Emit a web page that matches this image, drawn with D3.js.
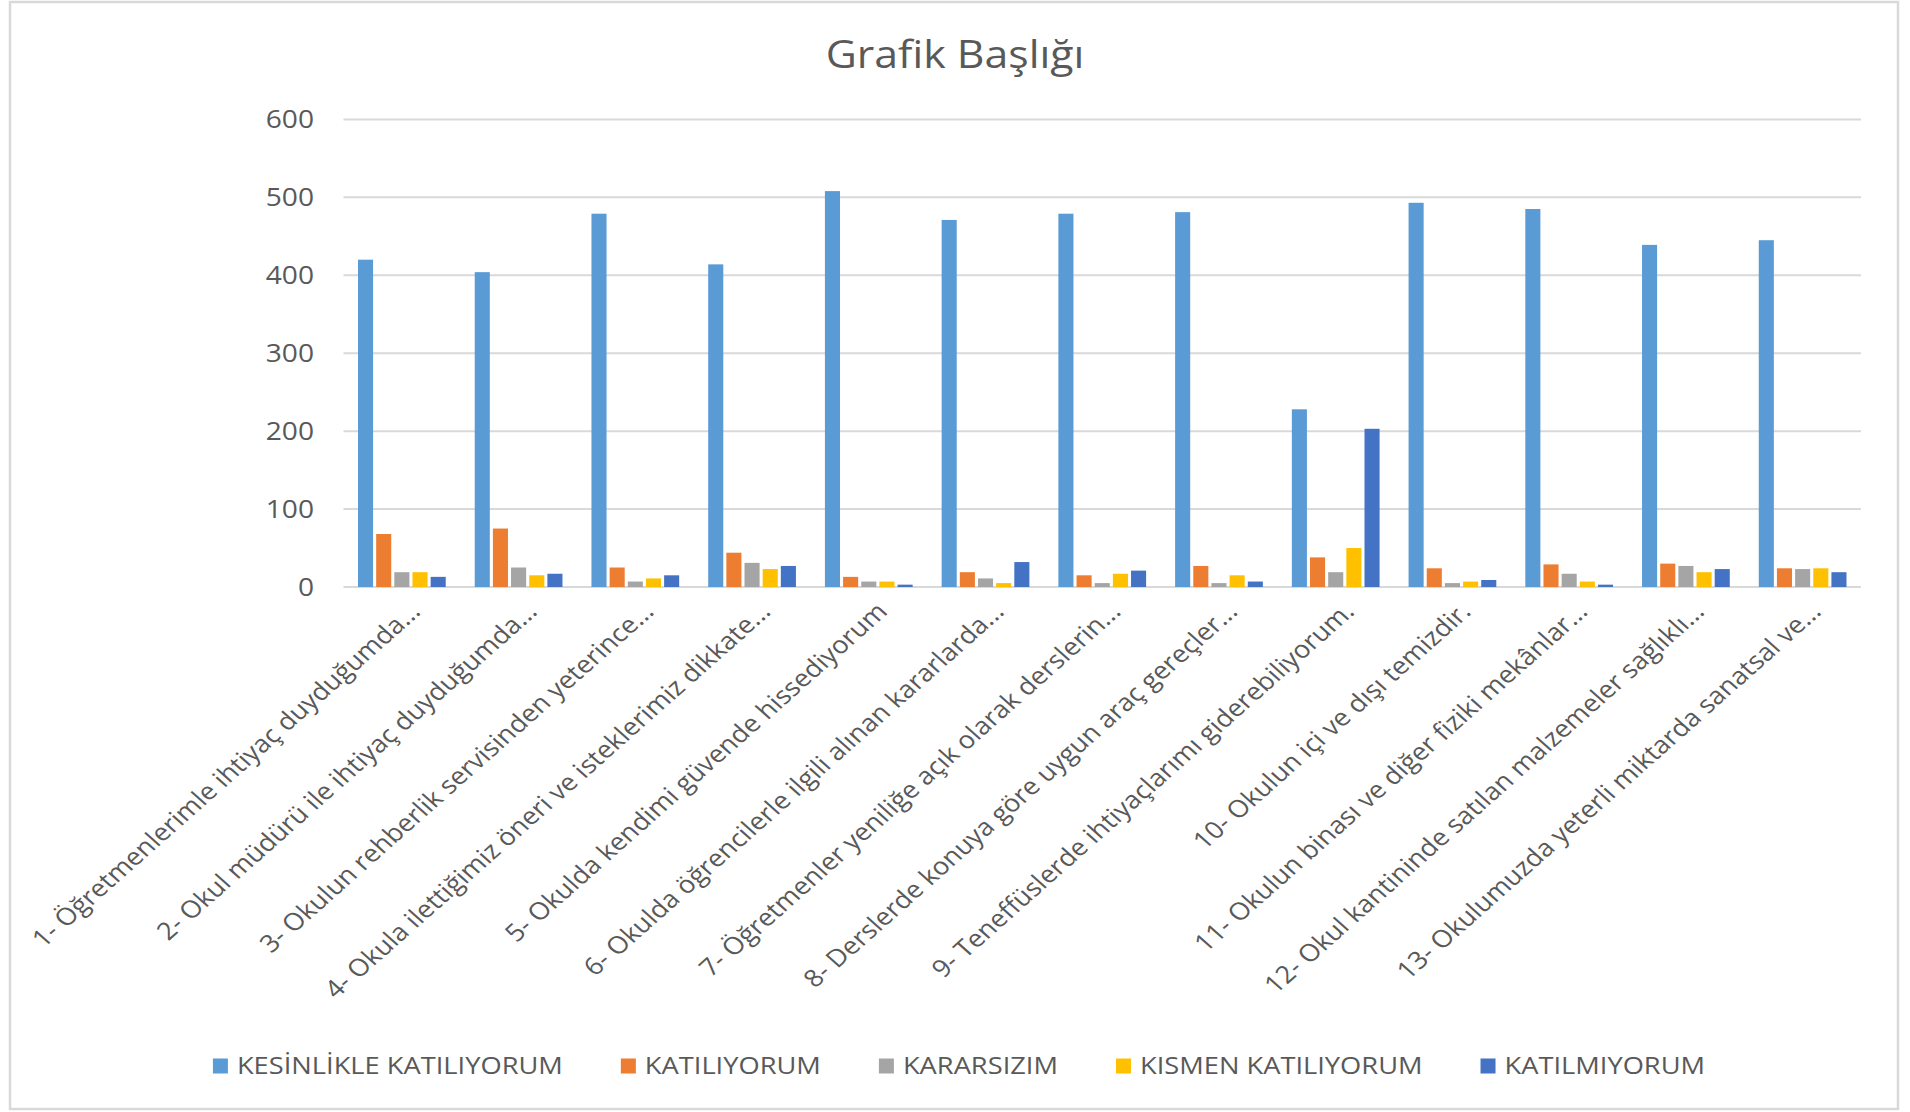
<!DOCTYPE html>
<html>
<head>
<meta charset="utf-8">
<style>
  body { margin: 0; background: #fff; }
  svg { display: block; font-family: "Open Sans", sans-serif; }
</style>
</head>
<body>
<svg width="1910" height="1112"></svg>
<script src="https://d3js.org/d3.v7.min.js"></script>
<script>

const categories = [
  "1- Öğretmenlerimle ihtiyaç duyduğumda...",
  "2- Okul müdürü ile ihtiyaç duyduğumda...",
  "3- Okulun rehberlik servisinden yeterince...",
  "4- Okula ilettiğimiz öneri ve isteklerimiz dikkate...",
  "5- Okulda kendimi güvende hissediyorum",
  "6- Okulda öğrencilerle ilgili alınan kararlarda...",
  "7- Öğretmenler yeniliğe açık olarak derslerin...",
  "8- Derslerde konuya göre uygun araç gereçler...",
  "9- Teneffüslerde ihtiyaçlarımı giderebiliyorum.",
  "10- Okulun içi ve dışı temizdir.",
  "11- Okulun binası ve diğer fiziki mekânlar...",
  "12- Okul kantininde satılan malzemeler sağlıklı...",
  "13- Okulumuzda yeterli miktarda sanatsal ve..."
];
const seriesNames = ["KESİNLİKLE KATILIYORUM", "KATILIYORUM", "KARARSIZIM", "KISMEN KATILIYORUM", "KATILMIYORUM"];
const seriesColors = ["#5B9BD5", "#ED7D31", "#A5A5A5", "#FFC000", "#4472C4"];

const kesinlikleKatiliyorum = [420, 404, 479, 414, 508, 471, 479, 481, 228, 493, 485, 439, 445];
const katiliyorum           = [68, 75, 25, 44, 13, 19, 15, 27, 38, 24, 29, 30, 24];
const kararsizim            = [19, 25, 7, 31, 7, 11, 5, 5, 19, 5, 17, 27, 23];
const kismenKatiliyorum     = [19, 15, 11, 23, 7, 5, 17, 15, 50, 7, 7, 19, 24];
const katilmiyorum          = [13, 17, 15, 27, 3, 32, 21, 7, 203, 9, 3, 23, 19];

const yTicks = [0, 100, 200, 300, 400, 500, 600];
const title = "Grafik Başlığı";

const allSeries = [kesinlikleKatiliyorum, katiliyorum, kararsizim, kismenKatiliyorum, katilmiyorum];
const plot = {left: 343.5, right: 1861, top: 119.4, bottom: 587};
const textColor = "#595959";
const gridColor = "#D9D9D9";
// görüntü yatayda biraz gerilmiş, yazılar da öyle
const stretch = 1.127;

let svg = d3.select("svg");

// çerçeve
svg.append("rect")
  .attr("x", 10).attr("y", 2)
  .attr("width", 1888).attr("height", 1107)
  .attr("fill", "#fff")
  .attr("stroke", gridColor)
  .attr("stroke-width", 2.5);

svg.append("text")
  .attr("transform", "translate(955,68) scale(" + stretch + ",1)")
  .attr("text-anchor", "middle")
  .attr("fill", textColor)
  .attr("font-size", "38px")
  .text(title);

let scaleY = d3.scaleLinear().domain([0, 600]).range([plot.bottom, plot.top]);
let scaleX = d3.scaleBand().domain(categories).range([plot.left, plot.right]);
let scaleS = d3.scaleBand().domain(seriesNames)
  .range([14.5, scaleX.bandwidth() - 14.5])
  .paddingInner(0.17);

// yatay ızgara çizgileri
svg.append("g").selectAll("line").data(yTicks).enter().append("line")
  .attr("x1", plot.left).attr("x2", plot.right)
  .attr("y1", d => scaleY(d)).attr("y2", d => scaleY(d))
  .attr("stroke", gridColor)
  .attr("stroke-width", 2);

svg.append("g").selectAll("text").data(yTicks).enter().append("text")
  .attr("transform", d => "translate(314," + scaleY(d) + ") scale(" + stretch + ",1)")
  .attr("dy", "0.35em")
  .attr("text-anchor", "end")
  .attr("fill", textColor)
  .attr("font-size", "25px")
  .text(d => d);

// sütunlar
let groups = svg.append("g").selectAll("g").data(categories).enter().append("g")
  .attr("transform", d => "translate(" + scaleX(d) + ",0)");

groups.selectAll("rect")
  .data((c, i) => seriesNames.map((s, j) => ({s: s, j: j, v: allSeries[j][i]})))
  .enter().append("rect")
  .attr("x", d => scaleS(d.s))
  .attr("width", scaleS.bandwidth())
  .attr("y", d => scaleY(d.v))
  .attr("height", d => scaleY(0) - scaleY(d.v))
  .attr("fill", d => seriesColors[d.j]);

// kategori etiketleri
svg.append("g").selectAll("text").data(categories).enter().append("text")
  .attr("transform", d => "translate(" + (scaleX(d) + scaleX.bandwidth() / 2 + 20) + "," + (plot.bottom + 26) + ") scale(" + stretch + ",1) rotate(-45)")
  .attr("text-anchor", "end")
  .attr("fill", textColor)
  .attr("font-size", "24.2px")
  .text(d => d);

// lejant
let legend = svg.append("g");
let items = legend.selectAll("g").data(seriesNames).enter().append("g");
items.append("rect")
  .attr("width", 15).attr("height", 15)
  .attr("y", -7.5)
  .attr("fill", (d, i) => seriesColors[i]);
items.append("text")
  .attr("transform", "translate(24,0) scale(" + stretch + ",1)")
  .attr("dy", "0.35em")
  .attr("fill", textColor)
  .attr("font-size", "24.2px")
  .text(d => d);

const legendGap = 58;
let offset = 0;
items.each(function () {
  let w = 24 + stretch * this.querySelector("text").getComputedTextLength();
  d3.select(this).attr("transform", "translate(" + offset + ",0)");
  offset += w + legendGap;
});
let legendWidth = offset - legendGap;
legend.attr("transform", "translate(" + (959 - legendWidth / 2) + ",1066)");

</script>
</body>
</html>
